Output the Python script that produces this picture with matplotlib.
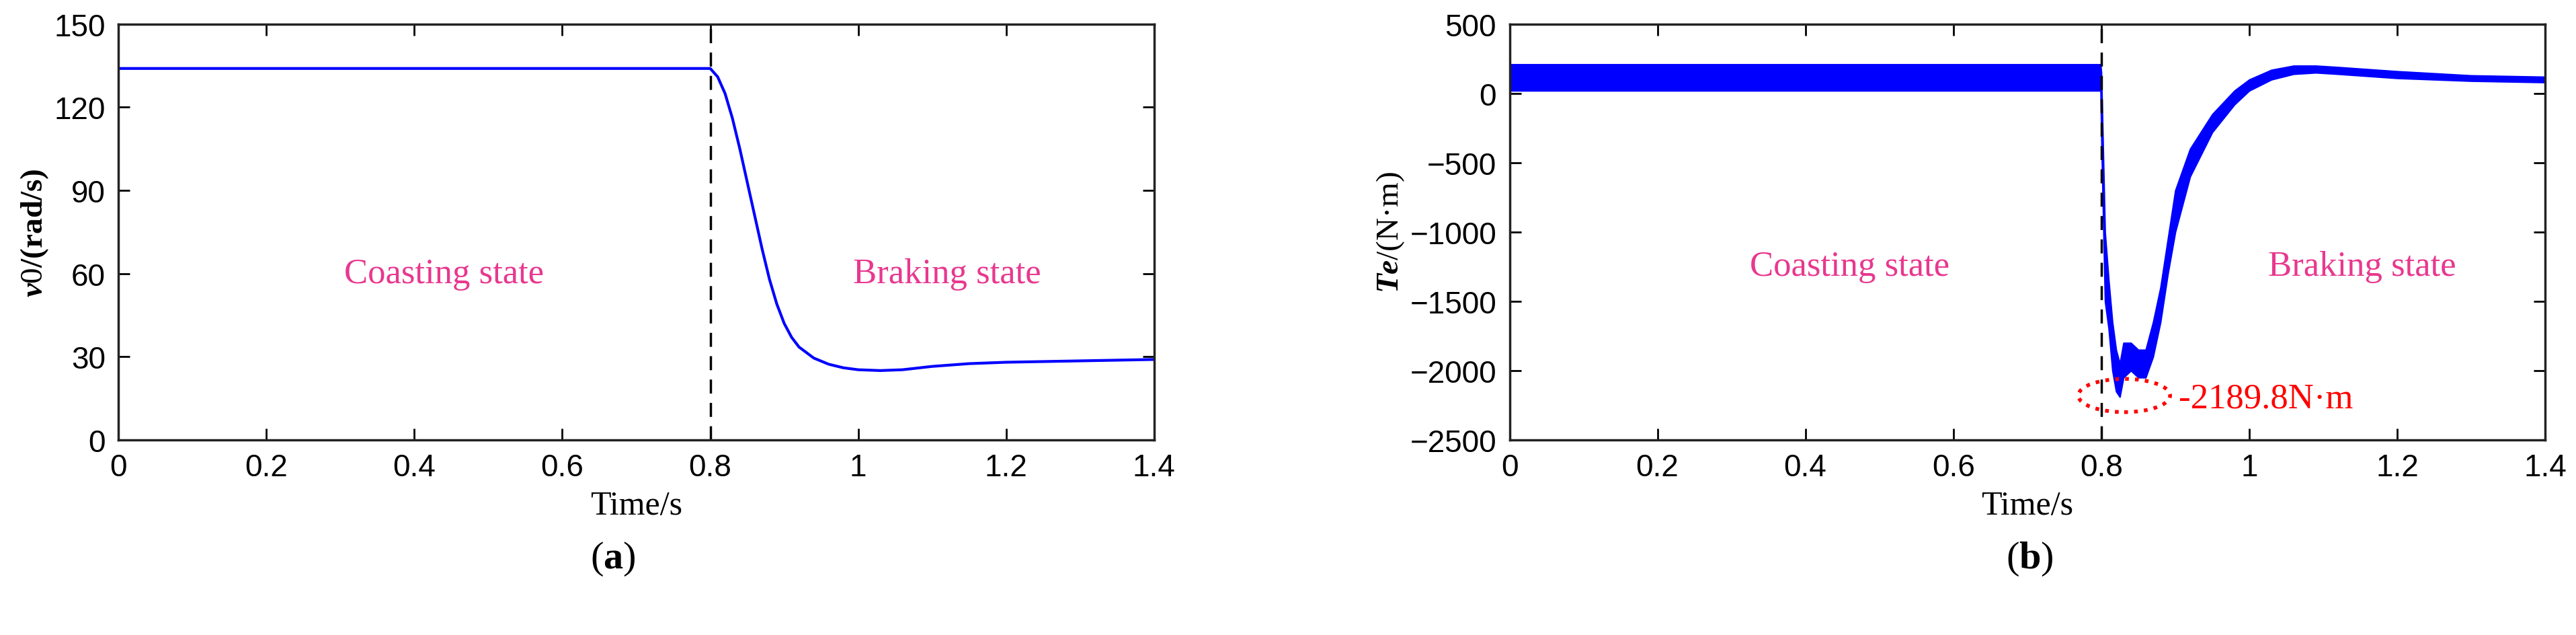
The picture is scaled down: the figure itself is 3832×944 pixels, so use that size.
import matplotlib
matplotlib.use("Agg")
import matplotlib.pyplot as plt
import numpy as np
from matplotlib.patches import Ellipse

plt.rcParams['mathtext.fontset'] = 'custom'
plt.rcParams['mathtext.rm'] = 'Liberation Serif'
plt.rcParams['mathtext.it'] = 'Liberation Serif:italic:bold'
plt.rcParams['mathtext.bf'] = 'Liberation Serif:bold'

# speed data (a)
t_speed = [0, 0.80, 0.81, 0.82, 0.83, 0.84, 0.85, 0.86, 0.87, 0.88, 0.89, 0.90, 0.91, 0.92, 0.94, 0.96, 0.98, 1.0, 1.03, 1.06, 1.1, 1.15, 1.2, 1.3, 1.4]
v_speed = [134, 134, 131, 125, 116, 105, 93, 81, 69, 58, 49, 42, 37, 33.5, 29.5, 27.3, 26, 25.3, 25, 25.3, 26.5, 27.5, 28, 28.5, 29]

# torque envelope data (b)
t_torque = [0, 0.799, 0.800, 0.805, 0.81, 0.815, 0.82, 0.825, 0.83, 0.84, 0.85, 0.86, 0.87, 0.88, 0.89, 0.90, 0.92, 0.95, 0.98, 1.0, 1.03, 1.06, 1.09, 1.12, 1.2, 1.3, 1.4]
te_upper = [210, 210, 150, -1000, -1350, -1650, -1850, -1950, -1800, -1800, -1850, -1850, -1650, -1400, -1050, -700, -400, -150, 20, 100, 170, 200, 200, 190, 160, 130, 120]
te_lower = [20, 20, -300, -1500, -1700, -2000, -2150, -2190, -2050, -2000, -2050, -2050, -1900, -1650, -1300, -1000, -600, -280, -80, 20, 100, 140, 150, 140, 110, 90, 80]

c_blue = '#0000FF'
c_pink = '#E8388F'
serif = 'Liberation Serif'

fig = plt.figure(figsize=(38.32, 9.45), dpi=100)
ax1 = fig.add_axes([0.046, 0.307, 0.402, 0.654])
ax2 = fig.add_axes([0.586, 0.307, 0.402, 0.654])

ax1.plot(t_speed, v_speed, color=c_blue, lw=3)
ax1.axvline(0.8, color='black', ls=(0, (6, 4)), lw=2.5)
ax1.set_ylim(0, 150); ax1.set_yticks([0, 30, 60, 90, 120, 150])
ax1.text(0.44, 60, 'Coasting state', color=c_pink, fontsize=38, family=serif, ha='center', va='center')
ax1.text(1.12, 60, 'Braking state', color=c_pink, fontsize=38, family=serif, ha='center', va='center')
ax1.set_ylabel(r'$v0$' + '/(rad/s)', fontsize=34, family=serif, fontweight='bold')

ax2.fill_between(t_torque, te_lower, te_upper, color=c_blue, lw=1.5, edgecolor=c_blue)
ax2.axvline(0.8, color='black', ls=(0, (6, 4)), lw=2.5)
ax2.set_ylim(-2500, 500); ax2.set_yticks([-2500, -2000, -1500, -1000, -500, 0, 500])
ax2.text(0.46, -1250, 'Coasting state', color=c_pink, fontsize=38, family=serif, ha='center', va='center')
ax2.text(1.153, -1250, 'Braking state', color=c_pink, fontsize=38, family=serif, ha='center', va='center')
ax2.add_patch(Ellipse((0.831, -2180), 0.124, 240, fill=False, edgecolor='red', ls=':', lw=4))
ax2.text(0.905, -2200, '-2189.8N·m', color='red', fontsize=38, family=serif, ha='left', va='center')
ax2.set_ylabel(r'$Te$' + '/(N·m)', fontsize=34, family=serif)

for ax in (ax1, ax2):
    ax.set_xlim(0, 1.4)
    ax.set_xticks([0, 0.2, 0.4, 0.6, 0.8, 1, 1.2, 1.4])
    ax.set_xticklabels(['0', '0.2', '0.4', '0.6', '0.8', '1', '1.2', '1.4'])
    ax.tick_params(direction='in', length=12, width=2, labelsize=33, top=True, right=True, pad=14)
    for lab in ax.get_xticklabels() + ax.get_yticklabels():
        lab.set_fontfamily(['Liberation Sans'])
    for s in ax.spines.values():
        s.set_linewidth(2.5); s.set_color('#222222')
    ax.set_xlabel('Time/s', fontsize=36, family=serif, labelpad=8)

fig.text(0.238, 0.12, r'($\mathbf{a}$)', fontsize=42, family=serif, ha='center', va='center')
fig.text(0.788, 0.12, r'($\mathbf{b}$)', fontsize=42, family=serif, ha='center', va='center')

fig.savefig('out.png', dpi=100)
